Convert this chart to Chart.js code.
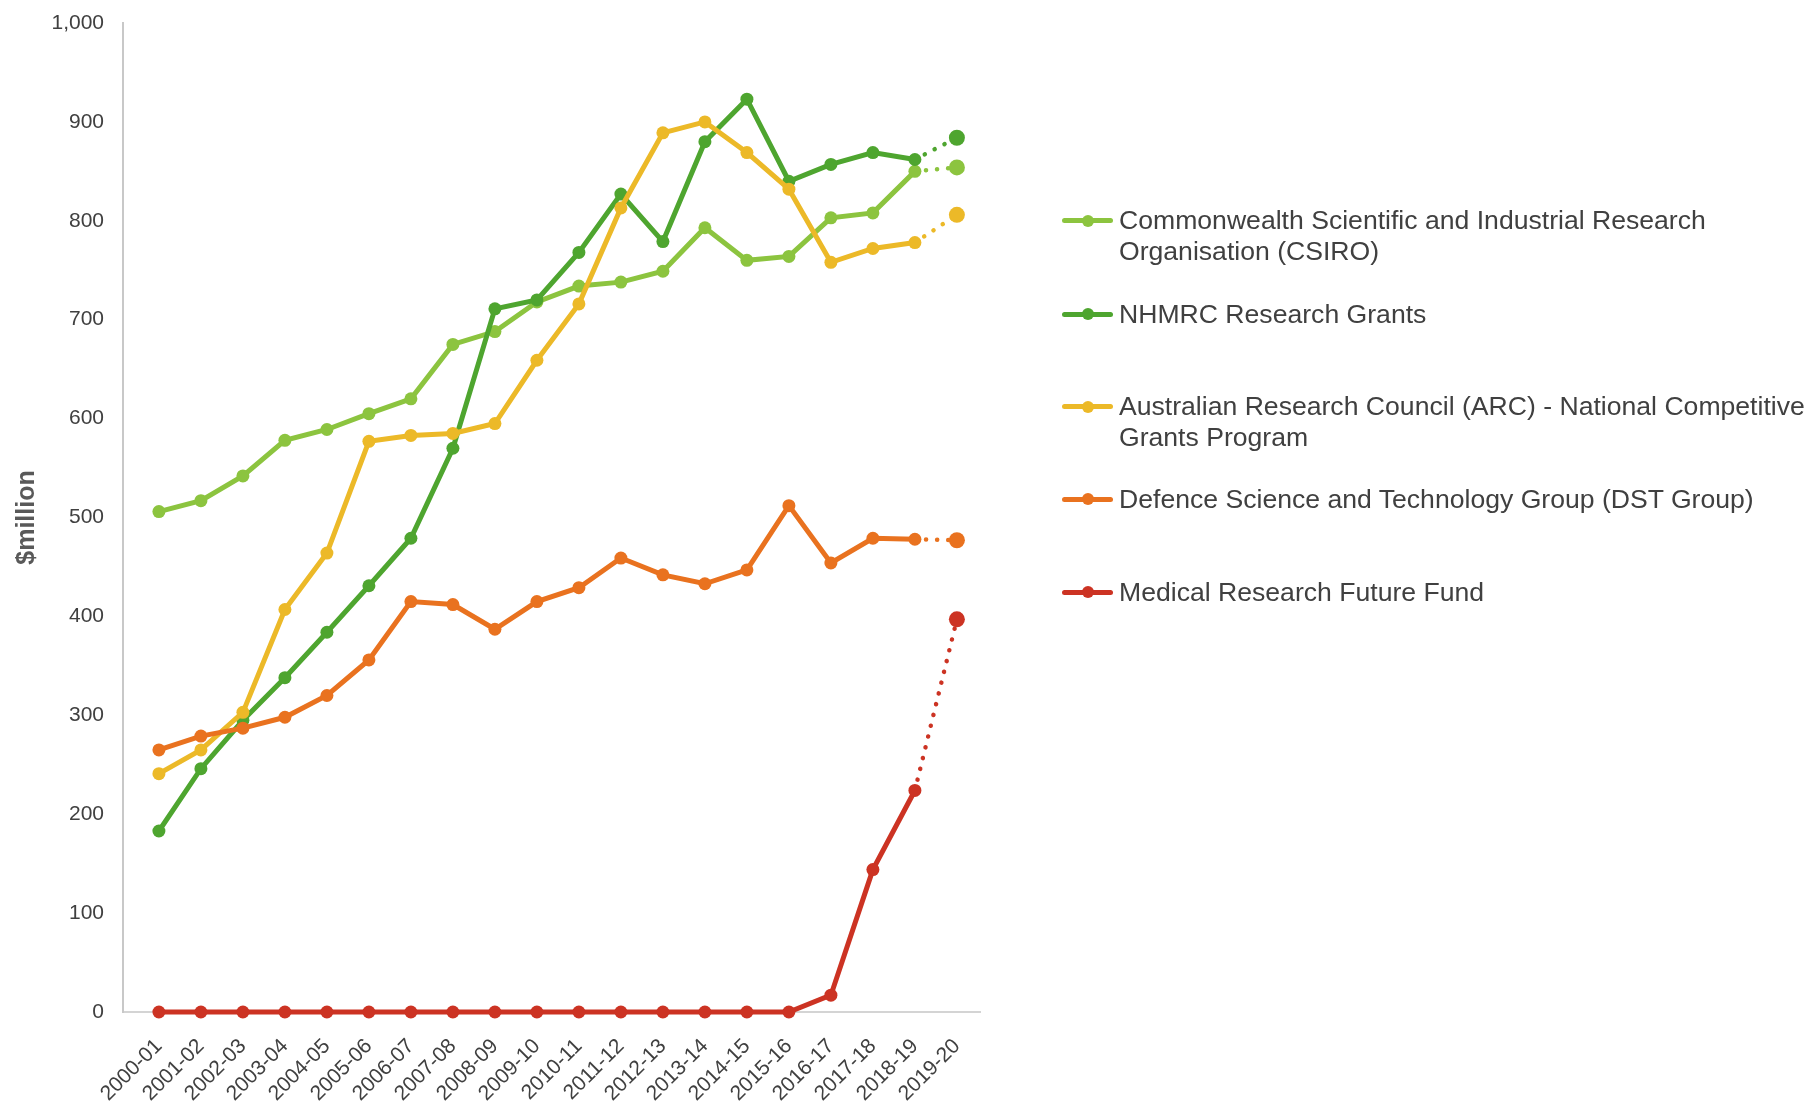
<!DOCTYPE html>
<html>
<head>
<meta charset="utf-8">
<script src="https://cdn.jsdelivr.net/npm/chart.js@4.4.1/dist/chart.umd.min.js"></script>
<style>
  html, body { margin: 0; padding: 0; background: #fff; }
  #wrap { position: relative; width: 1812px; height: 1106px; }
  #chart { position: absolute; left: 0; top: 0; }
  .legend-item { position: absolute; left: 1062px; display: flex; align-items: flex-start; }
  .legend-mark { position: relative; width: 51px; height: 31px; flex: none; }
  .legend-mark .ln { position: absolute; left: 0; right: 0; top: 13px; height: 5px; border-radius: 2.5px; }
  .legend-mark .dt { position: absolute; left: 19.5px; top: 9.5px; width: 12px; height: 12px; border-radius: 50%; }
  .legend-text { margin-left: 6px; font-family: "Liberation Sans", Arial, sans-serif; font-size: 26.6px;
                 line-height: 31px; color: #404040; white-space: nowrap; }
</style>
</head>
<body>
<div id="wrap">
  <canvas id="chart" width="1812" height="1106"></canvas>
</div>
<script>
// Research funding by agency, $million (last year is an estimate -> dotted)
const years = ['2000-01', '2001-02', '2002-03', '2003-04', '2004-05', '2005-06', '2006-07',
               '2007-08', '2008-09', '2009-10', '2010-11', '2011-12', '2012-13', '2013-14',
               '2014-15', '2015-16', '2016-17', '2017-18', '2018-19', '2019-20'];

const csiro = [506, 517, 542, 578, 589, 605, 620, 675, 688, 718, 734, 738, 749, 793, 760, 764, 803, 808, 850, 854];
const nhmrc = [183, 246, 295, 338, 384, 431, 479, 570, 711, 720, 768, 827, 779, 880, 923, 840, 857, 869, 862, 884];
const arc = [241, 265, 303, 407, 464, 577, 583, 585, 595, 659, 716, 813, 889, 900, 869, 832, 758, 772, 778, 806];
const dst = [265, 279, 287, 298, 320, 356, 415, 412, 387, 415, 429, 459, 442, 433, 447, 512, 454, 479, 478, 477];
const mrff = [0, 0, 0, 0, 0, 0, 0, 0, 0, 0, 0, 0, 0, 0, 0, 0, 17, 144, 224, 397];

const seriesNames = [
    ['Commonwealth Scientific and Industrial Research', 'Organisation (CSIRO)'],
    ['NHMRC Research Grants'],
    ['Australian Research Council (ARC) - National Competitive', 'Grants Program'],
    ['Defence Science and Technology Group (DST Group)'],
    ['Medical Research Future Fund']
];
const seriesValues = [csiro, nhmrc, arc, dst, mrff];
const seriesColors = ['#8cc43f', '#4ea52f', '#ecb928', '#e9721f', '#cc3323'];

const lastIdx = years.length - 1;
const FONT = '"Liberation Sans", Arial, sans-serif';

const datasets = seriesValues.map((vals, s) => ({
    label: seriesNames[s].join(' '),
    data: vals.map((v, i) => ({ x: i, y: v })),
    borderColor: seriesColors[s],
    backgroundColor: seriesColors[s],
    pointBackgroundColor: seriesColors[s],
    pointBorderWidth: 0,
    borderWidth: 5,
    tension: 0,
    clip: false,
    // later series sit on top, as in the original
    order: seriesValues.length - s,
    pointRadius: ctx => ctx.dataIndex === lastIdx ? 8 : 6.5,
    pointHoverRadius: ctx => ctx.dataIndex === lastIdx ? 8 : 6.5,
    segment: {
        borderDash: ctx => ctx.p1DataIndex === lastIdx ? [0.1, 11] : undefined,
        borderCapStyle: ctx => ctx.p1DataIndex === lastIdx ? 'round' : 'butt',
        borderWidth: ctx => ctx.p1DataIndex === lastIdx ? 4.5 : 5
    }
}));

new Chart(document.getElementById('chart'), {
    type: 'line',
    data: { datasets: datasets },
    options: {
        responsive: false,
        animation: false,
        layout: { padding: { top: 23, right: 1812 - 980, left: 0, bottom: 0 } },
        plugins: { legend: { display: false }, tooltip: { enabled: false } },
        scales: {
            x: {
                type: 'linear',
                min: -0.855,
                max: 19.55,
                afterBuildTicks: scale => { scale.ticks = years.map((_, i) => ({ value: i })); },
                afterFit: scale => { scale.height = 1106 - 1012; },
                grid: { display: true, drawOnChartArea: false, drawTicks: false },
                border: { display: true, color: '#d4d4d4', width: 2 },
                ticks: {
                    autoSkip: false, maxRotation: 45, minRotation: 45, padding: 22,
                    color: '#404040', font: { family: FONT, size: 21 },
                    callback: v => years[v]
                }
            },
            y: {
                min: 0,
                max: 1000,
                afterFit: scale => {
                    scale.width = 123;
                    // keep the tick padding from pushing the plot top down
                    scale.paddingTop = 0;
                    scale.paddingBottom = 0;
                },
                grid: { display: true, drawOnChartArea: false, drawTicks: false },
                border: { display: true, color: '#c8c8c8', width: 2 },
                ticks: {
                    stepSize: 100, padding: 19, color: '#404040',
                    font: { family: FONT, size: 21 },
                    callback: v => v.toLocaleString('en-US')
                },
                title: {
                    display: true, text: '$million', color: '#595959',
                    font: { family: FONT, size: 25, weight: 'bold' },
                    padding: { top: 12, bottom: 0 }
                }
            }
        }
    }
});

// legend on the right, built from the same series lists
const legendTops = [205, 298.5, 391, 483.5, 576.5];
const wrap = document.getElementById('wrap');
seriesNames.forEach((lines, s) => {
    const item = document.createElement('div');
    item.className = 'legend-item';
    item.style.top = legendTops[s] + 'px';
    item.innerHTML = `
        <div class="legend-mark">
            <div class="ln" style="background:${seriesColors[s]}"></div>
            <div class="dt" style="background:${seriesColors[s]}"></div>
        </div>
        <div class="legend-text">${lines.join('<br>')}</div>`;
    wrap.appendChild(item);
});
</script>
</body>
</html>
